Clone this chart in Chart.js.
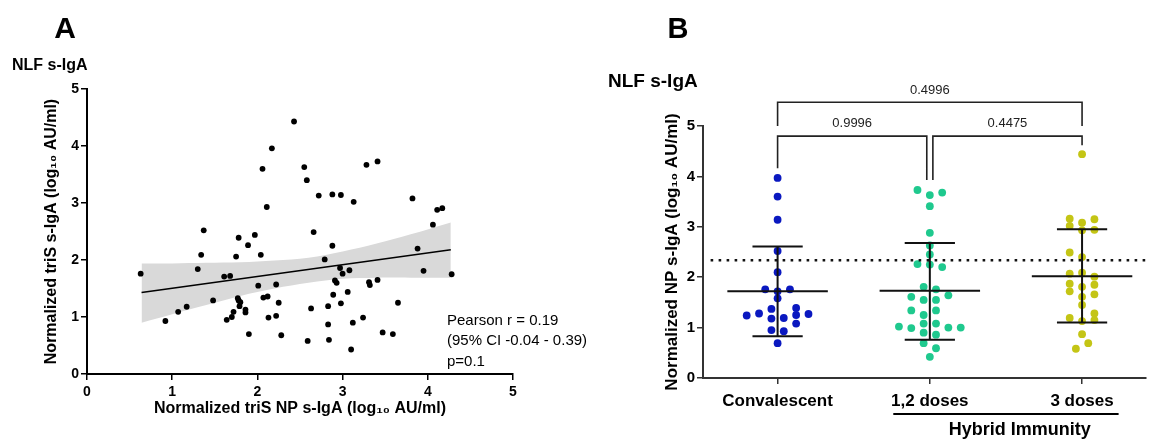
<!DOCTYPE html>
<html>
<head>
<meta charset="utf-8">
<script src="https://cdn.jsdelivr.net/npm/chart.js@4.4.1/dist/chart.umd.min.js"></script>
<style>
  body { margin: 0; background: #fff; }
  #wrap { position: relative; width: 1150px; height: 440px; overflow: hidden; }
  #chartA { position: absolute; left: 0; top: 0; width: 600px; height: 440px; }
  #chartB { position: absolute; left: 600px; top: 0; width: 550px; height: 440px; }
</style>
</head>
<body>
<div id="wrap">
  <canvas id="chartA" width="600" height="440"></canvas>
  <canvas id="chartB" width="550" height="440"></canvas>
</div>
<script>
// ---- Panel A data: triS NP (x) vs triS (y), log10 AU/ml ----
var scatterX = [0.63, 0.92, 1.07, 1.17, 1.30, 1.34, 1.37, 1.48, 1.61, 1.68, 1.64, 1.70, 1.72, 1.75, 1.78, 1.77,
  1.78, 1.79, 1.80, 1.86, 1.86, 1.89, 1.90, 1.97, 2.01, 2.04, 2.06, 2.07, 2.11, 2.12, 2.13, 2.17, 2.22, 2.22,
  2.25, 2.28, 2.43, 2.55, 2.58, 2.59, 2.63, 2.66, 2.72, 2.79, 2.83, 2.83, 2.84, 2.88, 2.88, 2.89, 2.91, 2.93,
  2.97, 2.98, 2.98, 3.00, 3.06, 3.08, 3.10, 3.12, 3.13, 3.24, 3.28, 3.31, 3.32, 3.41, 3.41, 3.47, 3.59, 3.65,
  3.82, 3.88, 3.95, 4.06, 4.11, 4.17, 4.28];
var scatterY = [1.76, 0.93, 1.09, 1.18, 1.84, 2.09, 2.52, 1.29, 1.71, 1.72, 0.95, 1.00, 1.09, 2.06, 2.39, 1.33,
  1.29, 1.19, 1.26, 1.13, 1.08, 2.26, 0.70, 2.44, 1.55, 2.09, 3.60, 1.34, 2.93, 1.36, 0.99, 3.96, 1.57, 1.02,
  1.25, 0.68, 4.43, 3.63, 3.40, 0.58, 1.15, 2.49, 3.13, 2.01, 1.19, 0.87, 0.60, 3.15, 2.25, 1.39, 1.64, 1.60,
  1.86, 1.24, 3.14, 1.76, 1.44, 1.82, 0.43, 0.90, 3.02, 0.99, 3.67, 1.61, 1.56, 3.73, 1.65, 0.73, 0.70, 1.25,
  3.08, 2.20, 1.81, 2.62, 2.88, 2.91, 1.75];

// regression line and its 95% band
var fitX = [0.64, 4.27];
var fitY = [1.43, 2.18];
var bandX = [0.64, 1.0, 1.4, 1.8, 2.2, 2.6, 3.0, 3.4, 3.8, 4.27];
var bandUpper = [1.94, 1.94, 1.95, 1.96, 1.99, 2.04, 2.15, 2.29, 2.45, 2.66];
var bandLower = [0.90, 1.05, 1.21, 1.37, 1.50, 1.60, 1.67, 1.69, 1.69, 1.69];
var statsText = ["Pearson r = 0.19", "(95% CI -0.04 - 0.39)", "p=0.1"];

// ---- Panel B data: NP s-IgA by group ----
var groups = ["Convalescent", "1,2 doses", "3 doses"];
var groupColors = ["#0a18c0", "#1fc98e", "#c4c515"];
var convValues = [3.97, 3.60, 3.14, 2.52, 2.10, 1.76, 1.72, 1.76, 1.58, 1.37, 1.39, 1.24, 1.28, 1.27, 1.25,
  1.18, 1.19, 1.08, 0.95, 0.93, 0.69];
var convJitter = [0, 0, 0, 0, 0, -2, 0, 2, 0, -1, 3, -5, -3, 5, 3, -1, 1, 3, -1, 1, 0];
var dose12Values = [3.73, 3.63, 3.68, 3.41, 2.88, 2.63, 2.45, 2.26, 2.25, 2.20, 1.81, 1.76, 1.61, 1.64, 1.55,
  1.55, 1.34, 1.34, 1.25, 1.08, 1.08, 1.02, 0.99, 1.00, 1.00, 0.90, 0.86, 0.69, 0.59, 0.42];
var dose12Jitter = [-2, 0, 2, 0, 0, 0, 0, -2, 0, 2, -1, 1, -3, 3, -1, 1, -3, 1, -1, -1, 1, -5, -3, 3, 5, -1, 1, -1, 1, 0];
var dose3Values = [4.44, 3.16, 3.08, 3.15, 3.02, 2.94, 2.93, 2.49, 2.40, 2.07, 2.09, 2.01, 1.87, 1.81, 1.85,
  1.72, 1.66, 1.61, 1.45, 1.28, 1.19, 1.13, 1.15, 0.87, 0.69, 0.58];
var dose3Jitter = [0, -2, 0, 2, -2, 2, 0, -2, 0, -2, 0, 2, -2, 0, 2, -2, 2, 0, 0, 2, -2, 0, 2, 0, 1, -1];
var groupMean = [1.72, 1.73, 2.02];
var groupSdLow = [0.83, 0.76, 1.10];
var groupSdHigh = [2.61, 2.68, 2.95];
var cutoff = 2.335;

// comparison brackets: [from, to, barY, leftLegY, rightLegY, label, labelX, labelY]
var brackets = [
  [1, 3, 5.47, 5.0, 5.0, "0.4996", 2, 5.70],
  [1, 1.98, 4.80, 4.16, 3.93, "0.9996", 1.49, 5.06],
  [2.02, 3, 4.80, 3.93, 4.62, "0.4475", 2.51, 5.06]
];
var hybridSpan = [1.76, 3.24];
var hybridLabelX = 2.59;
var hybridLabel = "Hybrid Immunity";

Chart.defaults.font.family = 'Arial, "Liberation Sans", sans-serif';
Chart.defaults.color = '#000';

var FONT = 'Arial, "Liberation Sans", sans-serif';

// ---------- Panel A ----------
var scatterPoints = [];
for (let i = 0; i < scatterX.length; i++) {
  scatterPoints.push({ x: scatterX[i], y: scatterY[i] });
}
var upperPts = bandX.map((x, i) => ({ x: x, y: bandUpper[i] }));
var lowerPts = bandX.map((x, i) => ({ x: x, y: bandLower[i] }));
var fitPts = fitX.map((x, i) => ({ x: x, y: fitY[i] }));

var textA = {
  id: 'textA',
  afterDraw(chart) {
    const ctx = chart.ctx;
    ctx.save();
    ctx.fillStyle = '#000';
    ctx.textBaseline = 'middle';
    ctx.textAlign = 'center';
    ctx.font = 'bold 30px ' + FONT;
    ctx.fillText('A', 65, 30);
    ctx.textAlign = 'left';
    ctx.font = 'bold 16px ' + FONT;
    ctx.fillText('NLF s-IgA', 12, 66);
    ctx.font = '15px ' + FONT;
    statsText.forEach((t, i) => ctx.fillText(t, 447, 321 + i * 20.3));
    ctx.restore();
  }
};

new Chart(document.getElementById('chartA'), {
  type: 'scatter',
  data: {
    datasets: [
      { data: fitPts, showLine: true, borderColor: '#000', borderWidth: 1.6, pointRadius: 0, order: 0 },
      { data: scatterPoints, backgroundColor: '#000', borderWidth: 0, pointRadius: 2.9, order: 1 },
      { data: upperPts, showLine: true, fill: '+1', backgroundColor: '#d9d9d9', borderWidth: 0,
        pointRadius: 0, tension: 0.35, order: 2 },
      { data: lowerPts, showLine: true, fill: false, borderWidth: 0, pointRadius: 0, tension: 0.35, order: 3 }
    ]
  },
  options: {
    responsive: false,
    animation: false,
    layout: { padding: { top: 89, right: 87, bottom: 16, left: 0 } },
    plugins: { legend: { display: false }, tooltip: { enabled: false } },
    scales: {
      x: {
        min: 0, max: 5,
        afterFit: (s) => { s.height = 50; },
        ticks: { stepSize: 1, padding: 4, font: { size: 14, weight: 'bold' }, color: '#000' },
        grid: { drawOnChartArea: false, tickLength: 6, color: '#000', lineWidth: 1.5 },
        border: { color: '#000', width: 2 },
        title: { display: true, text: 'Normalized triS NP s-IgA (log\u2081\u2080 AU/ml)',
          font: { size: 16, weight: 'bold' }, color: '#000', padding: { top: 0, bottom: 6 } }
      },
      y: {
        min: 0, max: 5,
        afterFit: (s) => { s.width = 87; },
        ticks: { stepSize: 1, padding: 2, font: { size: 14, weight: 'bold' }, color: '#000' },
        grid: { drawOnChartArea: false, tickLength: 6, color: '#000', lineWidth: 1.5 },
        border: { color: '#000', width: 2 },
        title: { display: true, text: 'Normalized triS s-IgA (log\u2081\u2080 AU/ml)',
          font: { size: 16, weight: 'bold' }, color: '#000', padding: { top: 42, bottom: 0 } }
      }
    }
  },
  plugins: [textA]
});

// ---------- Panel B ----------
var JIT = 0.0406; // horizontal step of the dot swarm, in category units
function swarm(values, jitter, pos) {
  return values.map((v, i) => ({ x: pos + jitter[i] * JIT, y: v }));
}
function errorBar(i) {
  var c = i + 1, m = 0.33, cap = 0.165;
  return [
    { x: c - m, y: groupMean[i] }, { x: c + m, y: groupMean[i] }, { x: c, y: null },
    { x: c - cap, y: groupSdHigh[i] }, { x: c + cap, y: groupSdHigh[i] }, { x: c, y: null },
    { x: c - cap, y: groupSdLow[i] }, { x: c + cap, y: groupSdLow[i] }, { x: c, y: null },
    { x: c, y: groupSdLow[i] }, { x: c, y: groupSdHigh[i] }
  ];
}
function bracketPts(b) {
  return [{ x: b[0], y: b[3] }, { x: b[0], y: b[2] }, { x: b[1], y: b[2] }, { x: b[1], y: b[4] }];
}

var dsB = [];
for (let i = 0; i < groups.length; i++) {
  dsB.push({ data: errorBar(i), showLine: true, spanGaps: false, borderColor: '#111', borderWidth: 2,
    pointRadius: 0, order: 0 });
}
brackets.forEach((b) => {
  dsB.push({ data: bracketPts(b), showLine: true, borderColor: '#222', borderWidth: 1.6, pointRadius: 0,
    clip: false, order: 0 });
});
dsB.push({ data: [{ x: 0.56, y: cutoff }, { x: 3.42, y: cutoff }], showLine: true, borderColor: '#111',
  borderWidth: 2.6, borderDash: [2.6, 5.4], pointRadius: 0, order: 0 });
[convValues, dose12Values, dose3Values].forEach((vals, i) => {
  var jit = [convJitter, dose12Jitter, dose3Jitter][i];
  dsB.push({ data: swarm(vals, jit, i + 1), backgroundColor: groupColors[i], borderWidth: 0,
    pointRadius: 3.9, order: 1 });
});

var textB = {
  id: 'textB',
  afterDraw(chart) {
    const ctx = chart.ctx;
    const xs = chart.scales.x, ys = chart.scales.y;
    ctx.save();
    ctx.fillStyle = '#000';
    ctx.textBaseline = 'middle';
    ctx.textAlign = 'center';
    ctx.font = 'bold 29px ' + FONT;
    ctx.fillText('B', 78, 30);
    ctx.textAlign = 'left';
    ctx.font = 'bold 19px ' + FONT;
    ctx.fillText('NLF s-IgA', 8, 82);
    ctx.textAlign = 'center';
    ctx.font = '13px ' + FONT;
    ctx.fillStyle = '#222';
    brackets.forEach((b) => {
      ctx.fillText(b[5], xs.getPixelForValue(b[6]), ys.getPixelForValue(b[7]));
    });
    // Hybrid Immunity group line
    ctx.strokeStyle = '#000';
    ctx.lineWidth = 1.8;
    ctx.beginPath();
    ctx.moveTo(xs.getPixelForValue(hybridSpan[0]), 414);
    ctx.lineTo(xs.getPixelForValue(hybridSpan[1]), 414);
    ctx.stroke();
    ctx.fillStyle = '#000';
    ctx.font = 'bold 18px ' + FONT;
    ctx.fillText(hybridLabel, xs.getPixelForValue(hybridLabelX), 430);
    ctx.restore();
  }
};

new Chart(document.getElementById('chartB'), {
  type: 'scatter',
  data: { datasets: dsB },
  options: {
    responsive: false,
    animation: false,
    layout: { padding: { top: 126, right: 0, bottom: 2, left: 0 } },
    plugins: { legend: { display: false }, tooltip: { enabled: false } },
    scales: {
      x: {
        min: 0.51, max: 3.42,
        afterFit: (s) => { s.height = 60; },
        afterBuildTicks: (s) => { s.ticks = groups.map((g, i) => ({ value: i + 1 })); },
        ticks: { autoSkip: false, maxRotation: 0, padding: 7, font: { size: 17, weight: 'bold' }, color: '#000',
          callback: (v) => groups[Math.round(v) - 1] },
        grid: { drawOnChartArea: false, tickLength: 6, color: '#333', lineWidth: 1.5 },
        border: { color: '#333', width: 2 }
      },
      y: {
        min: 0, max: 5,
        afterFit: (s) => { s.width = 103; },
        ticks: { stepSize: 1, padding: 2, font: { size: 15, weight: 'bold' }, color: '#000' },
        grid: { drawOnChartArea: false, tickLength: 6, color: '#333', lineWidth: 1.5 },
        border: { color: '#333', width: 2 },
        title: { display: true, text: 'Normalized NP s-IgA (log\u2081\u2080 AU/ml)',
          font: { size: 17, weight: 'bold' }, color: '#000', padding: { top: 62, bottom: 0 } }
      }
    }
  },
  plugins: [textB]
});
</script>
</body>
</html>
